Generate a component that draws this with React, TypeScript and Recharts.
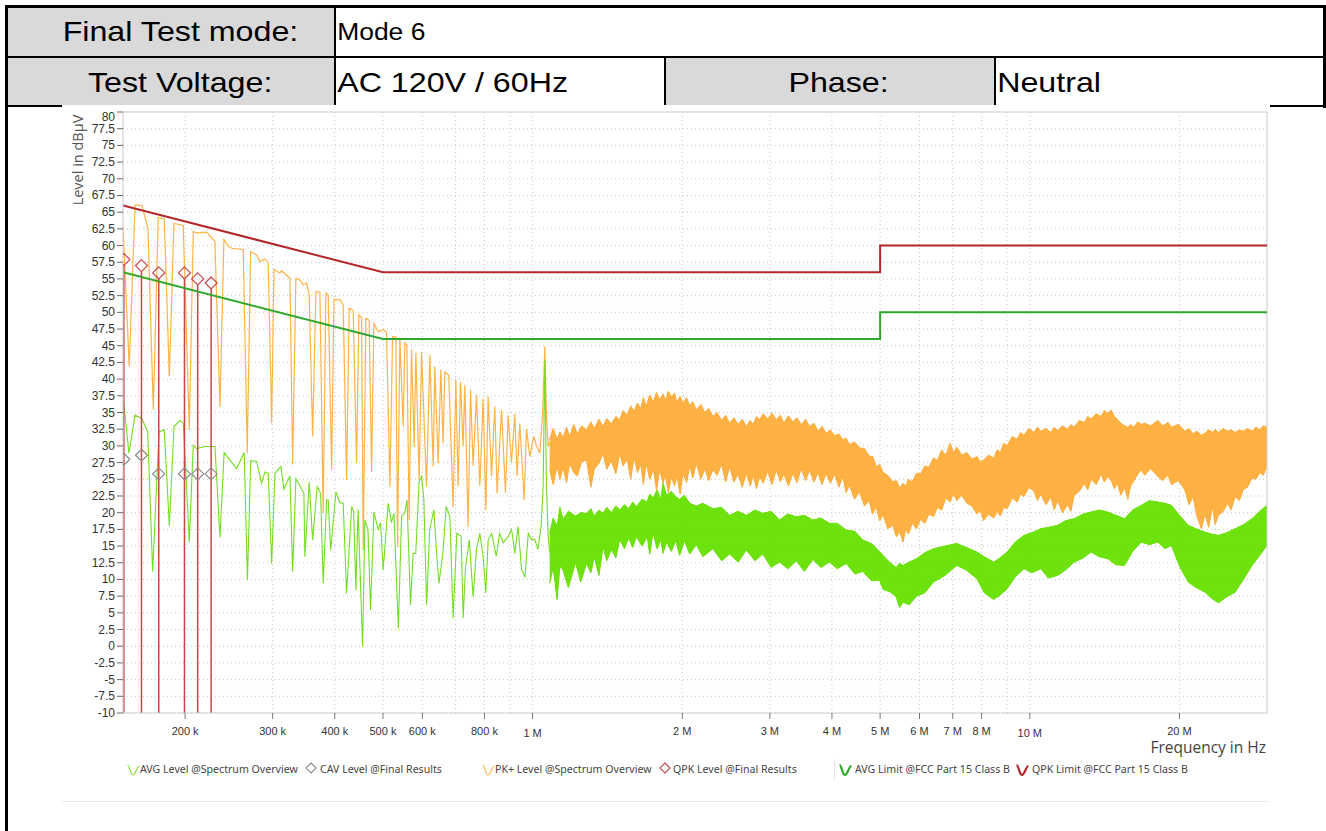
import React from 'react';
import {
  ComposedChart, Line, Area, Scatter, XAxis, YAxis, CartesianGrid, ReferenceLine,
} from 'recharts';

// PK+ trace, comb part below ~1.1 MHz (kHz / dBµV)
const PK_FREQ_K = [
  150, 154.4, 158.6, 163.8, 168.4, 172.6, 176.6, 181.6, 185.9, 189.9, 198.3, 203.9, 207.7, 211.0, 221.0,
  229.6, 235.0, 239.4, 244.2, 248.1, 261.8, 266.7, 270.9, 278.5, 282.8, 289.4, 293.9, 298.6, 301.8, 310.2,
  312.7, 325.0, 329.1, 334.1, 340.4, 345.6, 351.1, 355.3, 361.0, 366.5, 373.4, 379.1, 383.9, 388.0, 394.2,
  398.4, 409.6, 415.9, 422.5, 427.6, 435.6, 442.5, 447.3, 452.9, 456.3, 462.0, 469.1, 474.3, 479.4, 489.0,
  500.5, 508.4, 516.3, 522.7, 530.8, 535.0, 540.7, 549.1, 553.4, 558.5, 564.5, 570.8, 577.7, 582.3, 591.3,
  597.9, 611.8, 621.3, 630.9, 635.8, 645.6, 653.7, 660.7, 666.0, 678.0, 692.0, 700.7, 708.2, 716.1, 724.8,
  730.5, 741.8, 750.1, 759.1, 771.2, 783.1, 795.2, 805.2, 813.8, 826.7, 839.4, 848.4, 865.9, 882.0, 892.7,
  906.9, 920.9, 930.7, 942.4, 961.4, 972.1, 987.1, 1005.5, 1018.2, 1033.9, 1046.9, 1058.1, 1066.4, 1074.4, 1082.4,
];
const PK_LEVEL = [
  63.0, 41.9, 66.1, 66.0, 62.5, 35.4, 64.2, 64.0, 40.4, 63.3, 63.0, 32.4, 62.1, 61.9, 62.0,
  60.6, 35.8, 60.9, 59.9, 59.6, 59.4, 28.9, 59.1, 58.6, 57.6, 58.0, 57.4, 33.4, 56.4, 55.9,
  56.2, 55.1, 27.2, 55.1, 54.8, 54.1, 54.4, 52.6, 31.4, 53.1, 53.0, 19.9, 52.9, 52.6, 26.4,
  51.9, 51.9, 51.1, 24.9, 50.6, 50.3, 27.4, 49.6, 49.2, 14.4, 49.1, 48.8, 26.1, 48.4, 47.1,
  47.4, 47.0, 23.9, 46.4, 46.3, 14.9, 46.2, 32.9, 45.4, 45.1, 18.9, 44.4, 29.9, 43.9, 24.9,
  44.1, 23.9, 43.6, 26.9, 41.9, 27.4, 41.4, 30.4, 41.1, 40.6, 20.9, 39.9, 24.0, 39.6, 30.0,
  39.1, 17.9, 38.4, 27.0, 37.6, 24.0, 37.1, 20.4, 37.4, 25.5, 35.9, 22.9, 35.4, 23.0, 34.6,
  27.5, 34.8, 25.5, 33.4, 21.9, 32.5, 28.4, 31.4, 30.0, 28.9, 34.4, 44.9, 34.4, 29.9, 30.5,
];

// AVG trace, below ~1.1 MHz (kHz / dBµV)
const AVG_FREQ_K = [
  150, 154.2, 158.6, 163.6, 168.2, 172.1, 177.2, 181.6, 185.9, 190.0, 195.3, 198.4, 203.9, 207.7, 211.0,
  219.2, 229.6, 235.0, 239.6, 253.9, 263.0, 266.9, 271.0, 278.5, 285.0, 289.4, 293.9, 298.6, 303.2, 311.7,
  316.0, 325.0, 329.1, 334.1, 340.4, 346.7, 348.3, 355.3, 361.0, 368.7, 374.6, 379.1, 385.2, 388.0, 392.4,
  402.1, 409.6, 415.9, 422.5, 432.5, 436.4, 441.1, 445.5, 455.0, 459.9, 466.4, 472.1, 479.4, 489.0, 494.5,
  500.5, 512.2, 520.0, 526.0, 537.0, 545.0, 553.0, 559.0, 568.0, 575.0, 582.0, 591.0, 598.0, 604.2, 612.0,
  621.0, 632.9, 641.0, 648.0, 660.0, 670.0, 681.5, 692.0, 704.0, 718.0, 725.0, 733.0, 746.0, 759.0, 771.0,
  783.0, 795.0, 805.0, 814.0, 827.0, 845.0, 858.0, 873.0, 893.0, 907.0, 921.0, 935.0, 950.0, 965.0, 980.0,
  995.0, 1010.0, 1025.0, 1040.0, 1050.0, 1058.0, 1066.0, 1074.0, 1082.4,
];
const AVG_LEVEL = [
  37.6, 28.9, 34.6, 34.1, 32.1, 11.2, 32.1, 32.4, 18.0, 32.9, 33.8, 33.4, 15.6, 30.1, 29.6,
  29.9, 29.9, 16.3, 29.0, 26.6, 29.0, 9.9, 27.8, 27.7, 24.4, 26.1, 25.9, 12.4, 25.9, 26.9,
  23.5, 25.5, 11.2, 25.1, 24.0, 22.9, 13.4, 24.6, 15.9, 23.9, 22.9, 9.4, 21.9, 21.9, 14.4,
  23.1, 21.5, 21.4, 7.9, 20.9, 20.2, 8.4, 20.5, 0.0, 18.9, 17.5, 5.4, 20.1, 17.5, 18.5,
  11.4, 21.4, 18.5, 19.9, 2.7, 19.5, 19.9, 21.9, 6.2, 13.9, 13.9, 24.6, 25.4, 22.0, 6.2,
  17.5, 20.4, 14.0, 9.4, 14.0, 20.9, 19.5, 4.2, 16.9, 16.5, 4.2, 11.9, 15.9, 7.4, 14.5,
  16.9, 13.5, 8.0, 15.9, 16.9, 13.5, 16.9, 15.5, 16.4, 17.5, 13.9, 17.9, 11.5, 10.4, 16.9,
  16.0, 16.0, 14.5, 17.9, 23.9, 42.9, 24.5, 16.9, 14.0,
];

// dense noise above ~1.1 MHz, drawn as min/max envelopes (MHz / dBµV)
const PK_BAND_FREQ_M = [
  1.082, 1.10, 1.12, 1.135, 1.151, 1.17, 1.187, 1.21, 1.23, 1.255, 1.283, 1.31, 1.33, 1.36, 1.385,
  1.41, 1.44, 1.47, 1.497, 1.52, 1.55, 1.575, 1.60, 1.625, 1.65, 1.67, 1.693, 1.72, 1.75, 1.775,
  1.801, 1.83, 1.85, 1.875, 1.901, 1.93, 1.95, 1.98, 2.006, 2.04, 2.07, 2.10, 2.134, 2.18, 2.22,
  2.26, 2.305, 2.35, 2.40, 2.445, 2.49, 2.54, 2.59, 2.64, 2.691, 2.74, 2.78, 2.82, 2.861, 2.91,
  2.97, 3.03, 3.09, 3.15, 3.20, 3.27, 3.337, 3.40, 3.47, 3.54, 3.606, 3.68, 3.75, 3.82, 3.895,
  3.97, 4.05, 4.13, 4.207, 4.27, 4.339, 4.44, 4.545, 4.65, 4.75, 4.83, 4.909, 4.99, 5.068, 5.18,
  5.301, 5.39, 5.476, 5.56, 5.63, 5.70, 5.80, 5.917, 6.03, 6.15, 6.27, 6.402, 6.52, 6.65, 6.78,
  6.915, 7.02, 7.134, 7.30, 7.472, 7.65, 7.83, 7.95, 8.077, 8.26, 8.461, 8.60, 8.728, 8.86, 9.003,
  9.22, 9.435, 9.58, 9.733, 9.96, 10.2, 10.36, 10.52, 10.78, 11.02, 11.2, 11.37, 11.64, 11.91, 12.1,
  12.28, 12.58, 12.87, 13.08, 13.28, 13.6, 13.91, 14.12, 14.35, 14.57, 14.8, 15.0, 15.25, 15.51, 15.75,
  15.95, 16.2, 16.5, 16.76, 17.02, 17.5, 18.1, 18.5, 18.97, 19.27, 19.9, 20.51, 20.9, 21.3, 21.7,
  22.15, 22.51, 22.9, 23.3, 23.6, 23.95, 24.5, 25.0, 25.4, 25.89, 26.4, 26.9, 27.4, 27.99, 28.5,
  29.0, 29.5, 30.0,
];
const PK_BAND_LOW = [
  26.4, 24.2, 27.0, 25.0, 26.8, 24.5, 27.4, 26.0, 25.5, 27.6, 27.9, 23.8, 26.5, 27.4, 28.9,
  26.5, 27.8, 25.8, 28.9, 27.0, 28.0, 25.0, 28.4, 26.0, 27.2, 24.2, 27.4, 25.0, 26.5, 23.4,
  26.4, 24.4, 25.6, 23.0, 25.4, 24.0, 25.6, 22.8, 25.9, 24.5, 27.0, 25.2, 27.4, 25.0, 26.6,
  24.8, 26.4, 25.6, 27.2, 24.6, 26.9, 24.6, 25.8, 23.8, 25.9, 24.0, 25.6, 23.6, 25.4, 24.4,
  26.2, 24.2, 26.4, 24.6, 25.8, 24.0, 25.9, 24.5, 26.6, 24.8, 26.4, 24.6, 26.0, 24.2, 25.9,
  24.4, 25.8, 23.8, 25.4, 23.0, 24.1, 22.0, 23.1, 21.0, 21.8, 19.8, 20.9, 18.8, 19.7, 17.6,
  18.1, 16.4, 17.1, 15.6, 17.6, 16.8, 18.4, 17.6, 19.0, 18.4, 19.8, 19.4, 20.8, 20.4, 22.2,
  21.6, 22.8, 21.8, 22.6, 21.4, 21.0, 19.8, 20.4, 18.8, 19.8, 19.2, 20.2, 19.5, 20.8, 20.6,
  22.2, 21.6, 22.8, 22.4, 23.8, 23.2, 21.8, 22.8, 21.2, 22.4, 20.4, 21.8, 20.0, 21.2, 20.2,
  22.6, 23.2, 24.4, 23.4, 25.0, 24.2, 25.8, 24.6, 25.4, 24.8, 23.6, 24.4, 22.6, 23.8, 22.0,
  24.0, 24.8, 25.8, 26.4, 25.6, 26.6, 25.4, 24.8, 25.6, 24.2, 24.8, 23.4, 21.2, 22.4, 19.4,
  17.6, 19.8, 17.8, 21.0, 18.2, 19.6, 20.2, 21.4, 20.4, 22.4, 21.8, 23.5, 23.8, 25.2, 25.0,
  26.0, 25.6, 27.1,
];
const PK_BAND_HIGH = [
  30.9, 32.6, 31.0, 32.1, 31.2, 32.8, 31.4, 33.2, 31.8, 33.0, 32.4, 33.6, 32.6, 34.0, 32.9,
  34.1, 33.3, 34.4, 33.9, 35.3, 34.6, 36.0, 35.2, 36.4, 35.6, 37.2, 35.9, 37.6, 36.6, 38.0,
  36.9, 37.8, 36.8, 38.2, 37.3, 37.9, 36.5, 37.4, 36.4, 37.2, 36.0, 36.6, 35.4, 36.2, 35.0,
  35.6, 34.4, 35.0, 33.8, 34.6, 33.4, 34.2, 33.2, 34.0, 32.9, 33.8, 33.2, 34.4, 33.9, 34.8,
  34.0, 34.9, 33.9, 34.6, 33.4, 34.5, 33.6, 34.2, 33.2, 34.0, 32.9, 33.4, 32.2, 32.9, 31.9,
  32.4, 31.5, 31.8, 30.9, 31.2, 30.2, 30.6, 29.7, 29.6, 28.5, 28.4, 26.9, 27.2, 26.0, 25.6,
  24.6, 24.8, 23.7, 24.4, 24.0, 25.0, 24.6, 25.9, 25.8, 27.0, 26.8, 28.2, 27.8, 29.4, 28.6,
  30.4, 29.0, 29.8, 28.6, 29.0, 28.0, 28.4, 27.6, 27.9, 28.6, 28.2, 29.4, 29.0, 30.4, 30.0,
  31.4, 31.0, 32.0, 31.6, 32.6, 32.0, 32.8, 32.2, 32.6, 32.0, 32.8, 32.3, 33.0, 32.5, 33.2,
  32.8, 33.8, 33.5, 34.4, 34.0, 34.8, 34.4, 35.3, 34.8, 35.4, 34.4, 34.0, 33.4, 33.0, 32.8,
  33.2, 32.8, 33.6, 33.2, 33.4, 33.0, 33.8, 33.0, 33.5, 32.8, 33.2, 32.2, 32.6, 31.8, 32.2,
  31.6, 31.9, 32.4, 32.0, 32.5, 32.0, 32.6, 32.2, 32.4, 32.0, 32.4, 32.2, 32.6, 32.2, 32.8,
  32.4, 33.0, 32.8,
];
const AVG_BAND_FREQ_M = [
  1.082, 1.10, 1.12, 1.135, 1.151, 1.18, 1.22, 1.25, 1.283, 1.31, 1.33, 1.36, 1.385, 1.41, 1.44,
  1.47, 1.497, 1.53, 1.56, 1.59, 1.617, 1.66, 1.70, 1.72, 1.746, 1.78, 1.81, 1.829, 1.86, 1.901,
  1.94, 1.976, 2.02, 2.07, 2.134, 2.2, 2.305, 2.4, 2.49, 2.59, 2.691, 2.8, 2.904, 3.02, 3.138,
  3.26, 3.391, 3.52, 3.661, 3.8, 3.955, 4.1, 4.274, 4.45, 4.614, 4.8, 4.985, 5.068, 5.22, 5.385,
  5.47, 5.563, 5.72, 5.917, 6.15, 6.402, 6.75, 7.134, 7.45, 7.83, 8.1, 8.461, 8.7, 9.003, 9.35,
  9.733, 10.1, 10.52, 10.9, 11.37, 11.8, 12.28, 12.8, 13.28, 13.8, 14.35, 14.9, 15.51, 16.1, 16.76,
  17.4, 18.1, 18.7, 19.27, 20.0, 20.83, 21.6, 22.51, 23.2, 23.95, 24.9, 25.89, 26.9, 27.99, 29.0,
  30.0,
];
const AVG_BAND_LOW = [
  9.4, 11.8, 7.0, 12.0, 11.4, 8.8, 12.5, 9.6, 12.4, 11.0, 13.4, 10.6, 14.9, 12.8, 14.5,
  13.2, 16.0, 14.6, 16.2, 14.8, 16.4, 15.0, 16.4, 13.8, 17.0, 14.6, 16.0, 13.9, 15.6, 14.2,
  15.8, 13.6, 15.8, 13.8, 15.2, 13.4, 14.6, 12.8, 13.8, 12.6, 14.4, 12.8, 13.8, 11.8, 12.6,
  11.6, 12.8, 11.2, 13.0, 11.8, 12.6, 11.6, 12.4, 10.8, 11.2, 9.8, 9.9, 8.5, 8.2, 7.4,
  5.8, 6.6, 6.2, 7.5, 8.0, 9.6, 10.6, 12.1, 11.4, 10.1, 8.0, 7.0, 7.6, 8.6, 10.4,
  11.6, 11.0, 11.6, 10.2, 10.6, 11.4, 12.6, 13.2, 14.1, 13.4, 13.1, 12.2, 12.1, 14.2, 15.6,
  15.2, 15.6, 14.6, 15.1, 12.0, 9.6, 8.8, 8.1, 7.2, 6.5, 7.4, 8.1, 10.0, 12.1, 13.6,
  15.1,
];
const AVG_BAND_HIGH = [
  16.9, 19.2, 18.0, 20.8, 19.0, 20.2, 19.5, 20.0, 19.9, 20.6, 19.5, 20.4, 19.9, 20.8, 20.0,
  21.0, 20.4, 21.2, 20.6, 21.6, 20.9, 22.0, 21.6, 22.8, 22.2, 23.4, 22.0, 24.4, 22.6, 23.2,
  22.4, 22.0, 22.6, 21.4, 21.0, 21.4, 20.6, 20.8, 19.6, 20.2, 19.6, 20.4, 19.9, 20.2, 18.9,
  19.8, 19.4, 19.6, 18.9, 19.2, 18.4, 18.4, 17.4, 17.2, 15.9, 15.4, 14.2, 13.6, 12.6, 11.8,
  12.4, 12.1, 12.6, 13.1, 14.0, 14.6, 15.0, 15.4, 14.8, 14.1, 13.4, 12.6, 13.2, 14.1, 15.6,
  16.6, 17.0, 17.6, 17.8, 18.1, 18.8, 19.1, 19.8, 20.1, 20.4, 20.1, 19.6, 19.1, 20.4, 21.1,
  21.8, 21.6, 21.4, 21.1, 19.6, 18.1, 17.6, 17.1, 16.8, 16.6, 17.0, 17.6, 18.2, 19.1, 20.2,
  21.1,
];

// FCC Part 15 Class B limits
const LIMIT_FREQ = [150e3, 500e3, 5e6, 5e6, 30e6];
const QPK_LIMIT = [66, 56, 56, 60, 60];
const AVG_LIMIT = [56, 46, 46, 50, 50];

// final measurement results
const FINAL_FREQ_K = [150.6, 163.4, 177.0, 199.4, 212.0, 225.6];
const QPK_FINAL = [57.9, 57.0, 55.9, 55.9, 55.0, 54.4];
const CAV_FINAL = [28.0, 28.6, 25.8, 25.8, 25.8, 25.8];

const X_TICKS = [
  200e3, 300e3, 400e3, 500e3, 600e3, 700e3, 800e3, 900e3, 1e6,
  2e6, 3e6, 4e6, 5e6, 6e6, 7e6, 8e6, 9e6, 10e6, 20e6,
];
const X_LABELS: Record<number, string> = {
  200000: '200 k', 300000: '300 k', 400000: '400 k', 500000: '500 k', 600000: '600 k', 800000: '800 k',
  1000000: '1 M', 2000000: '2 M', 3000000: '3 M', 4000000: '4 M', 5000000: '5 M', 6000000: '6 M',
  7000000: '7 M', 8000000: '8 M', 10000000: '10 M', 20000000: '20 M',
};
const Y_TICKS = [
  -10, -7.5, -5, -2.5, 0, 2.5, 5, 7.5, 10, 12.5, 15, 17.5, 20, 22.5, 25, 27.5, 30, 32.5, 35, 37.5,
  40, 42.5, 45, 47.5, 50, 52.5, 55, 57.5, 60, 62.5, 65, 67.5, 70, 72.5, 75, 77.5, 80,
];

const PK_COLOR = '#ffaa33';
const AVG_COLOR = '#66e000';
const QPK_LIM_COLOR = '#b3262b';
const AVG_LIM_COLOR = '#2ea82a';
const QPK_MARK = '#c4474a';
const CAV_MARK = '#8a8a8a';
const TABLE_FONT = '"Liberation Sans", Arial, sans-serif';
const CHART_FONT = '"Liberation Sans", Arial, sans-serif';
const LEGEND_FONT = '"Noto Sans", "Open Sans", sans-serif';

const pkLine = PK_FREQ_K.map((k, i) => ({ f: k * 1000, v: PK_LEVEL[i] }));
const avgLine = AVG_FREQ_K.map((k, i) => ({ f: k * 1000, v: AVG_LEVEL[i] }));
const pkBand = PK_BAND_FREQ_M.map((m, i) => ({ f: m * 1e6, r: [PK_BAND_LOW[i], PK_BAND_HIGH[i]] }));
const avgBand = AVG_BAND_FREQ_M.map((m, i) => ({ f: m * 1e6, r: [AVG_BAND_LOW[i], AVG_BAND_HIGH[i]] }));
const qpkLimit = LIMIT_FREQ.map((f, i) => ({ f, v: QPK_LIMIT[i] }));
const avgLimit = LIMIT_FREQ.map((f, i) => ({ f, v: AVG_LIMIT[i] }));
const qpkFinal = FINAL_FREQ_K.map((k, i) => ({ f: k * 1000, v: QPK_FINAL[i] }));
const cavFinal = FINAL_FREQ_K.map((k, i) => ({ f: k * 1000, v: CAV_FINAL[i] }));

const diamond = (color: string) => (props: any) => {
  const { cx, cy } = props;
  if (cx == null || cy == null) return <g />;
  return (
    <path
      d={`M${cx},${cy - 6} L${cx + 6},${cy} L${cx},${cy + 6} L${cx - 6},${cy} Z`}
      fill="none"
      stroke={color}
      strokeWidth={1.2}
    />
  );
};

const XTick = (props: any) => {
  const { x, y, payload } = props;
  const label = X_LABELS[payload.value];
  if (!label) return <g />;
  const decade = payload.value === 1e6 || payload.value === 10e6;
  return (
    <g>
      <line x1={x} y1={y} x2={x} y2={y + 6} stroke="#777" />
      <text x={x} y={y + (decade ? 24 : 22)} textAnchor="middle" fill="#333"
        fontSize={11} fontFamily={CHART_FONT}>{label}</text>
    </g>
  );
};

const YTick = (props: any) => {
  const { x, y, payload } = props;
  const shift = payload.value === 80 ? 5 : 0;
  return (
    <g>
      <line x1={x - 6} y1={y} x2={x} y2={y} stroke="#666" />
      <text x={x - 8} y={y + 4 + shift} textAnchor="end" fill="#333"
        fontSize={12} fontFamily={CHART_FONT}>{String(payload.value)}</text>
    </g>
  );
};

const Squiggle = ({ color, bold }: { color: string; bold?: boolean }) => (
  <svg width={15} height={16} style={{ display: 'block' }}>
    <path d="M1.5 3 C3.5 3, 4.5 13, 7 13 S11 4, 13.5 4" fill="none" stroke={color}
      strokeWidth={bold ? 2.2 : 1.1} />
  </svg>
);

const Diamond = ({ color }: { color: string }) => (
  <svg width={12} height={12} style={{ display: 'block' }}>
    <path d="M6 1 L11 6 L6 11 L1 6 Z" fill="none" stroke={color} strokeWidth={1.1} />
  </svg>
);

const LEGEND_ITEMS = [
  { x: 126, tx: 140, label: 'AVG Level @Spectrum Overview', icon: <Squiggle color="#7fdc2a" /> },
  { x: 305, tx: 320, label: 'CAV Level @Final Results', icon: <Diamond color={CAV_MARK} /> },
  { x: 481, tx: 495, label: 'PK+ Level @Spectrum Overview', icon: <Squiggle color="#ffb040" /> },
  { x: 659, tx: 673, label: 'QPK Level @Final Results', icon: <Diamond color={QPK_MARK} /> },
  { x: 838, tx: 855, label: 'AVG Limit @FCC Part 15 Class B', icon: <Squiggle color={AVG_LIM_COLOR} bold /> },
  { x: 1015, tx: 1032, label: 'QPK Limit @FCC Part 15 Class B', icon: <Squiggle color={QPK_LIM_COLOR} bold /> },
];

const Cell = ({ left, top, width, height, grey, align, size, children }: any) => (
  <div style={{
    position: 'absolute', left, top, width, height, background: grey ? '#d9d9d9' : '#fff',
    display: 'flex', alignItems: 'center', justifyContent: align === 'left' ? 'flex-start' : 'center',
    fontFamily: TABLE_FONT, fontSize: size, color: '#000', whiteSpace: 'nowrap',
  }}>
    <span style={{
      display: 'inline-block',
      transform: align === 'left' ? 'scaleX(1.15)' : 'translateX(9px) scaleX(1.15)',
      transformOrigin: align === 'left' ? 'left center' : 'center center',
      paddingLeft: align === 'left' ? 1 : 0,
    }}>{children}</span>
  </div>
);

const Bar = ({ left, top, width, height }: any) => (
  <div style={{ position: 'absolute', left, top, width, height, background: '#000' }} />
);

export default function App() {
  return (
    <div style={{ position: 'fixed', left: 0, top: 0, width: 1326, height: 831, background: '#fff', overflow: 'hidden' }}>
      <Cell left={8} top={8} width={326} height={48} grey size={28}>Final Test mode:</Cell>
      <Cell left={336} top={8} width={987} height={48} align="left" size={23}>Mode 6</Cell>
      <Cell left={8} top={58} width={326} height={47} grey size={28}>
        <span style={{ position: 'relative', top: 1 }}>Test Voltage:</span>
      </Cell>
      <Cell left={336} top={58} width={328} height={47} align="left" size={28}>
        <span style={{ position: 'relative', top: 1 }}>AC 120V / 60Hz</span>
      </Cell>
      <Cell left={666} top={58} width={328} height={47} grey size={28}>
        <span style={{ position: 'relative', top: 1 }}>Phase:</span>
      </Cell>
      <Cell left={996} top={58} width={327} height={47} align="left" size={28}>
        <span style={{ position: 'relative', top: 1 }}>Neutral</span>
      </Cell>

      <Bar left={5} top={5} width={1321} height={3} />
      <Bar left={5} top={5} width={3} height={826} />
      <Bar left={1323} top={5} width={3} height={103} />
      <Bar left={5} top={56} width={1321} height={2} />
      <Bar left={5} top={105} width={1321} height={2} />
      <Bar left={334} top={5} width={2} height={102} />
      <Bar left={664} top={56} width={2} height={51} />
      <Bar left={994} top={56} width={2} height={51} />

      <div style={{ position: 'absolute', left: 62, top: 105, width: 1208, height: 696, background: '#fff', borderBottom: '1px solid #ececec' }}>
        <ComposedChart width={1208} height={695} margin={{ top: 7, right: 3, bottom: 0, left: 0 }}>
          <CartesianGrid vertical horizontal stroke="#c8c8c8" strokeDasharray="1 3" />
          <XAxis dataKey="f" type="number" scale="log" domain={[150e3, 30e6]} allowDataOverflow
            ticks={X_TICKS} tick={<XTick />} tickLine={false} tickSize={0} tickMargin={0}
            interval={0} height={87} axisLine={{ stroke: '#d0d0d0' }} />
          <YAxis type="number" domain={[-10, 80]} ticks={Y_TICKS} tick={<YTick />} tickLine={false}
            tickSize={0} tickMargin={0} interval={0} width={61} axisLine={{ stroke: '#d0d0d0' }} />
          <ReferenceLine y={80} stroke="#d0d0d0" />
          <ReferenceLine x={30e6} stroke="#d0d0d0" />

          <Area data={pkBand} dataKey="r" type="linear" stroke={PK_COLOR} strokeWidth={1}
            fill={PK_COLOR} fillOpacity={0.92} isAnimationActive={false} />
          <Line data={pkLine} dataKey="v" type="linear" stroke="#ffb347" strokeWidth={1.2}
            dot={false} isAnimationActive={false} />
          <Area data={avgBand} dataKey="r" type="linear" stroke={AVG_COLOR} strokeWidth={1}
            fill={AVG_COLOR} fillOpacity={0.95} isAnimationActive={false} />
          <Line data={avgLine} dataKey="v" type="linear" stroke="#72de22" strokeWidth={1.1}
            dot={false} isAnimationActive={false} />

          {FINAL_FREQ_K.map((k, i) => (
            <ReferenceLine key={k} segment={[{ x: k * 1000, y: -10 }, { x: k * 1000, y: QPK_FINAL[i] - 0.9 }]}
              stroke="#c4474a" strokeWidth={1.5} />
          ))}

          <Line data={avgLimit} dataKey="v" type="linear" stroke={AVG_LIM_COLOR} strokeWidth={2}
            dot={false} isAnimationActive={false} />
          <Line data={qpkLimit} dataKey="v" type="linear" stroke={QPK_LIM_COLOR} strokeWidth={2}
            dot={false} isAnimationActive={false} />

          <Scatter data={cavFinal} dataKey="v" shape={diamond(CAV_MARK)} isAnimationActive={false} />
          <Scatter data={qpkFinal} dataKey="v" shape={diamond(QPK_MARK)} isAnimationActive={false} />
        </ComposedChart>
      </div>

      <div style={{
        position: 'absolute', left: 78, top: 160, transform: 'translate(-50%, -50%) rotate(-90deg)',
        fontFamily: '"Open Sans", sans-serif', fontSize: 14.5, color: '#555', whiteSpace: 'nowrap',
        lineHeight: '16px',
      }}>Level in dBµV</div>
      <div style={{
        position: 'absolute', right: 1326 - 1266, top: 741, fontFamily: '"Open Sans", sans-serif',
        fontSize: 15.5, color: '#444', whiteSpace: 'nowrap', lineHeight: '13px',
      }}>Frequency in Hz</div>

      {LEGEND_ITEMS.map((it) => (
        <React.Fragment key={it.label}>
          <div style={{ position: 'absolute', left: it.x, top: 762 }}>{it.icon}</div>
          <div style={{
            position: 'absolute', left: it.tx, top: 762, fontFamily: LEGEND_FONT, fontSize: 10.6,
            color: '#444', whiteSpace: 'nowrap', lineHeight: '14px',
          }}>{it.label}</div>
        </React.Fragment>
      ))}
      <div style={{ position: 'absolute', left: 834, top: 759, width: 1, height: 21, background: '#e4e4e4' }} />
    </div>
  );
}
